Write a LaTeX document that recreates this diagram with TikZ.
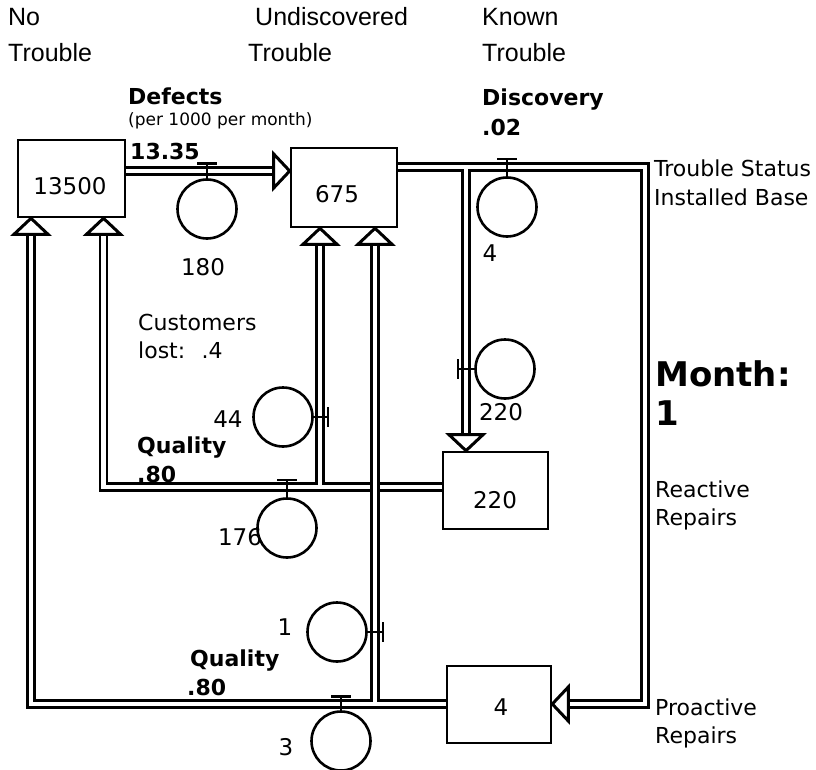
\documentclass[tikz,border=0pt]{standalone}
\usepackage{fontspec}
\setmainfont{DejaVu Sans}
\newfontfamily\hdrfont{Liberation Sans}
\usetikzlibrary{calc}
\pgfdeclarelayer{bg}
\pgfsetlayers{bg,main}
\begin{document}
\begin{tikzpicture}[x=1pt,y=-1pt,
  box/.style={draw,line width=2.6pt,inner sep=0,fill=white},
  valve/.style={draw,circle,line width=2.6pt,minimum size=59pt,inner sep=0},
  bar/.style={line width=2.6pt},
  pipeout/.style={line width=9.5pt,black,line join=miter},
  pipein/.style={line width=4.3pt,white,line join=miter},
  hdr/.style={anchor=base west,inner sep=0,font=\hdrfont\fontsize{25}{30}\selectfont},
  txt/.style={anchor=base west,inner sep=0,font=\fontsize{22}{26}\selectfont},
  btxt/.style={anchor=base west,inner sep=0,font=\fontsize{22}{26}\selectfont\bfseries},
  small/.style={anchor=base west,inner sep=0,font=\fontsize{17}{20}\selectfont},
  big/.style={anchor=base west,inner sep=0,font=\fontsize{34}{40}\selectfont\bfseries},
  num/.style={anchor=base,inner sep=0,font=\fontsize{23}{27}\selectfont},
  openarrow/.pic={\draw[line width=3pt,fill=white,line join=miter] (0,0) -- (-17,16) -- (17,16) -- cycle;}
]
\useasboundingbox (0,0) rectangle (816,770);

% stocks
\node[box,minimum width=107pt,minimum height=77pt] (A) at (71.5,178.5) {};
\node[box,minimum width=106pt,minimum height=79pt] (B) at (344,187.5) {};
\node[box,minimum width=105pt,minimum height=77pt] (C) at (495.5,490.5) {};
\node[box,minimum width=104pt,minimum height=77pt] (D) at (499,704.5) {};
\node[num] (Av) at (70,195) {13500};
\node[num] (Bv) at (337,203) {675};
\node[num] (Cv) at (495,508) {220};
\node[num] (Dv) at (501,715) {4};

% levels
\coordinate (yDef) at (0,171);
\coordinate (yTop) at (0,167);
\coordinate (yRea) at (0,487);
\coordinate (yPro) at (0,704);
\coordinate (xL1) at (31,0);
\coordinate (xL2) at (103.5,0);
\coordinate (xR) at (645,0);
\coordinate (xDisc) at (466,0);
\coordinate (xRU) at (320,0);
\coordinate (xPU) at (375,0);

% arrow tips
\coordinate (tAB) at (B.west |- yDef);
\coordinate (tD) at (D.east |- yPro);
\coordinate (tC) at (xDisc |- C.north);
\coordinate (tA2) at (xL2 |- A.south);
\coordinate (tA1) at (xL1 |- A.south);
\coordinate (tB1) at (xRU |- B.south);
\coordinate (tB2) at (xPU |- B.south);

\begin{pgfonlayer}{bg}
\foreach \s in {pipeout,pipein}{
  \draw[\s] (A.east |- yDef) -- ($(tAB)+(-16,0)$);
  \draw[\s] (B.east |- yTop) -- (xR |- yTop) -- (xR |- yPro) -- ($(tD)+(16,0)$);
  \draw[\s] (xDisc |- yTop) -- ($(tC)+(0,-16)$);
  \draw[\s] (C.west |- yRea) -- (xL2 |- yRea) -- ($(tA2)+(0,16)$);
  \draw[\s] (xRU |- yRea) -- ($(tB1)+(0,16)$);
  \draw[\s] (D.west |- yPro) -- (xL1 |- yPro) -- ($(tA1)+(0,16)$);
  \draw[\s] (xPU |- yPro) -- ($(tB2)+(0,16)$);
}
\draw[pipeout] ($(xPU |- yRea)+(0,-12)$) -- ($(xPU |- yRea)+(0,12)$);
\draw[pipein] ($(xPU |- yRea)+(0,-14)$) -- ($(xPU |- yRea)+(0,14)$);
\end{pgfonlayer}

\pic[rotate=-90] at (tAB) {openarrow};
\pic[rotate=90] at (tD) {openarrow};
\pic[rotate=180] at (tC) {openarrow};
\pic at (tA1) {openarrow};
\pic at (tA2) {openarrow};
\pic at (tB1) {openarrow};
\pic at (tB2) {openarrow};

% valves
\node[valve] (v180) at (207,209) {};
\coordinate (b180) at (207,163.5);
\draw[bar] ($(b180)+(-10,0)$) -- ($(b180)+(10,0)$);
\draw[bar] (b180) -- (v180.north);
\node[num] (l180) at (203,275) {180};

\node[valve] (v4) at (507,207) {};
\coordinate (b4) at (507,159);
\draw[bar] ($(b4)+(-10,0)$) -- ($(b4)+(10,0)$);
\draw[bar] (b4) -- (v4.north);
\node[num] (l4) at (490,261) {4};

\node[valve] (v220) at (505,369) {};
\coordinate (b220) at (458,369);
\draw[bar] ($(b220)+(0,-10)$) -- ($(b220)+(0,10)$);
\draw[bar] (b220) -- (v220.west);
\node[num] (l220) at (501,420) {220};

\node[valve] (v44) at (283,417) {};
\coordinate (b44) at (328,417);
\draw[bar] ($(b44)+(0,-10)$) -- ($(b44)+(0,10)$);
\draw[bar] (b44) -- (v44.east);
\node[num] (l44) at (228,427) {44};

\node[valve] (v176) at (287,528) {};
\coordinate (b176) at (287,480);
\draw[bar] ($(b176)+(-10,0)$) -- ($(b176)+(10,0)$);
\draw[bar] (b176) -- (v176.north);
\node[num] (l176) at (240,545) {176};

\node[valve] (v1) at (337,632) {};
\coordinate (b1) at (383,632);
\draw[bar] ($(b1)+(0,-10)$) -- ($(b1)+(0,10)$);
\draw[bar] (b1) -- (v1.east);
\node[num] (l1) at (285,635) {1};

\node[valve] (v3) at (341,741) {};
\coordinate (b3) at (341,696.5);
\draw[bar] ($(b3)+(-10,0)$) -- ($(b3)+(10,0)$);
\draw[bar] (b3) -- (v3.north);
\node[num] (l3) at (286,755) {3};

% header labels
\node[hdr] (h1a) at (8,26) {No};
\node[hdr] (h1b) at (8,62) {Trouble};
\node[hdr] (h2a) at (255,26) {Undiscovered};
\node[hdr] (h2b) at (248,62) {Trouble};
\node[hdr] (h3a) at (482,26) {Known};
\node[hdr] (h3b) at (482,62) {Trouble};

% other labels
\node[btxt] (t1) at (128,105) {Defects};
\node[small] (t2) at (128,126) {(per 1000 per month)};
\node[btxt] (t3) at (130,160) {13.35};
\node[btxt] (t4) at (482,106) {Discovery};
\node[btxt] (t5) at (482,136) {.02};
\node[txt] (t6) at (654,177) {Trouble Status};
\node[txt] (t7) at (654,205) {Installed Base};
\node[txt] (t8) at (138,330) {Customers};
\node[txt] (t9) at (138,358) {lost:~ .4};
\node[big] (t10) at (655,386) {Month:};
\node[big] (t11) at (655,425) {1};
\node[btxt] (t12) at (137,453) {Quality};
\node[btxt] (t13) at (137,482) {.80};
\node[txt] (t14) at (655,497) {Reactive};
\node[txt] (t15) at (655,525) {Repairs};
\node[btxt] (t16) at (190,666) {Quality};
\node[btxt] (t17) at (187,695) {.80};
\node[txt] (t18) at (655,715) {Proactive};
\node[txt] (t19) at (655,743) {Repairs};
\end{tikzpicture}
\end{document}
